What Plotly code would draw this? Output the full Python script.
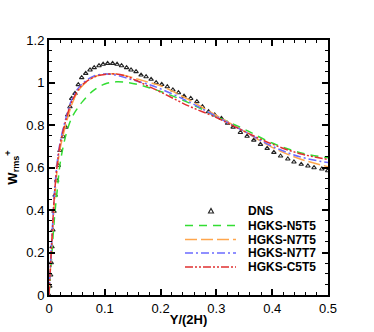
import plotly.graph_objects as go

# DNS reference points
dns_x = [0, 0.0013, 0.003, 0.004, 0.0054, 0.007, 0.009, 0.011, 0.0138, 0.0167,
         0.0197, 0.0256, 0.030, 0.0335, 0.0376, 0.0407, 0.0466, 0.0525, 0.0586,
         0.0658, 0.0735, 0.081, 0.0896, 0.097, 0.105, 0.114, 0.122, 0.130,
         0.139, 0.147, 0.156, 0.165, 0.174, 0.183, 0.192, 0.202, 0.212, 0.222,
         0.232, 0.242, 0.254, 0.265, 0.275, 0.286, 0.297, 0.309, 0.320, 0.330,
         0.343, 0.355, 0.367, 0.379, 0.391, 0.403, 0.415, 0.428, 0.439, 0.452,
         0.464, 0.475, 0.489, 0.4995]
dns_y = [0, 0.042, 0.094, 0.152, 0.227, 0.306, 0.394, 0.47, 0.54, 0.61,
         0.68, 0.745, 0.79, 0.847, 0.886, 0.925, 0.949, 0.99, 1.023, 1.043,
         1.059, 1.07, 1.079, 1.086, 1.09, 1.09, 1.086, 1.079, 1.07, 1.059,
         1.051, 1.035, 1.027, 1.015, 0.999, 0.991, 0.98, 0.965, 0.952, 0.936,
         0.925, 0.91, 0.886, 0.863, 0.847, 0.831, 0.808, 0.79, 0.765, 0.747,
         0.729, 0.709, 0.690, 0.671, 0.654, 0.640, 0.626, 0.615, 0.607, 0.599,
         0.593, 0.585]

# HGKS profiles
hgks_x = [0, 0.005, 0.01, 0.015, 0.02, 0.03, 0.04, 0.05, 0.06, 0.08, 0.1,
          0.12, 0.14, 0.16, 0.18, 0.2, 0.25, 0.3, 0.35, 0.4, 0.45, 0.5]
n5t5 = [0, 0.19, 0.37, 0.50, 0.62, 0.75, 0.83, 0.875, 0.91, 0.963, 0.993,
        1.003, 1.0, 0.99, 0.975, 0.958, 0.905, 0.84, 0.78, 0.715, 0.67, 0.646]
n7t5 = [0, 0.23, 0.45, 0.60, 0.69, 0.80, 0.89, 0.95, 0.985, 1.025, 1.04,
        1.04, 1.03, 1.015, 1.0, 0.985, 0.92, 0.845, 0.77, 0.695, 0.64, 0.604]
n7t7 = [0, 0.26, 0.49, 0.63, 0.72, 0.83, 0.915, 0.965, 0.995, 1.03, 1.04,
        1.035, 1.02, 1.005, 0.99, 0.97, 0.91, 0.84, 0.77, 0.70, 0.65, 0.623]
c5t5 = [0, 0.25, 0.48, 0.62, 0.71, 0.82, 0.905, 0.955, 0.99, 1.025, 1.038,
        1.04, 1.028, 1.005, 0.98, 0.955, 0.89, 0.835, 0.77, 0.71, 0.665, 0.638]

series_names = ['HGKS-N5T5', 'HGKS-N7T5', 'HGKS-N7T7', 'HGKS-C5T5']
series_values = [n5t5, n7t5, n7t7, c5t5]
series_colors = ['#33dd33', '#ffa64d', '#6b6bff', '#e03030']
series_dashes = ['8px,6px', '12px,4px', '8px,3px,2px,3px',
                 '8px,2px,2px,2px,2px,2px']

font = 'Arial, Liberation Sans, sans-serif'
dns_color = '#222222'

fig = go.Figure()
fig.add_trace(go.Scatter(
    x=dns_x, y=dns_y, mode='markers', name='DNS',
    marker=dict(symbol='triangle-up-open', size=4, color=dns_color,
                line=dict(width=1.1, color=dns_color)),
))
for name, ys, color, dash in zip(series_names, series_values,
                                 series_colors, series_dashes):
    fig.add_trace(go.Scatter(
        x=hgks_x, y=ys, mode='lines', name=name,
        line=dict(color=color, width=1.5, dash=dash, shape='spline'),
    ))

# hand-built legend (tighter row spacing than plotly's own legend)
plot_l, plot_w, plot_b, plot_h = 49, 279, 295, 255


def px(x):
    return (x - plot_l) / plot_w


def py(y):
    return (plot_b - y) / plot_h


rows = [211, 225.5, 239.5, 253, 267]
fig.add_annotation(
    x=px(246), y=py(rows[0]), xref='paper', yref='paper', text='<b>DNS</b>',
    showarrow=False, xanchor='left', yanchor='middle',
    font=dict(family=font, size=12, color='black'),
)
fig.add_shape(
    type='path', xref='paper', yref='paper',
    path='M {} {} L {} {} L {} {} Z'.format(
        px(208.5), py(213), px(213.5), py(213), px(211), py(208.5)),
    line=dict(color=dns_color, width=1.1),
)
for row, name, color, dash in zip(rows[1:], series_names,
                                  series_colors, series_dashes):
    fig.add_shape(
        type='line', xref='paper', yref='paper',
        x0=px(185), x1=px(236), y0=py(row), y1=py(row),
        line=dict(color=color, width=1.5, dash=dash),
    )
    fig.add_annotation(
        x=px(246), y=py(row), xref='paper', yref='paper',
        text='<b>' + name + '</b>', showarrow=False,
        xanchor='left', yanchor='middle',
        font=dict(family=font, size=12, color='black'),
    )

axis_common = dict(
    showline=True, linecolor='black', linewidth=2, mirror='allticks',
    ticks='inside', ticklen=6, tickwidth=1.5, tickcolor='black',
    showgrid=False, zeroline=False, automargin=False,
    tickfont=dict(family=font, size=13, color='black'),
)
fig.update_xaxes(
    range=[0, 0.5], dtick=0.1, tickformat='~g',
    minor=dict(dtick=0.02, ticks='inside', ticklen=3, tickwidth=1.2,
               tickcolor='black'),
    title=dict(text='<b>Y/(2H)</b>', standoff=0,
               font=dict(family=font, size=13, color='black')),
    **axis_common,
)
fig.update_yaxes(
    range=[0, 1.2], dtick=0.2, tickformat='~g',
    minor=dict(dtick=0.05, ticks='inside', ticklen=3, tickwidth=1.2,
               tickcolor='black'),
    title=dict(text='<b>W<sub>rms</sub><sup>+</sup></b>', standoff=6,
               font=dict(family=font, size=13, color='black')),
    **axis_common,
)
fig.update_layout(
    width=374, height=332,
    margin=dict(l=plot_l, r=374 - plot_l - plot_w, t=plot_b - plot_h,
                b=332 - plot_b),
    paper_bgcolor='white', plot_bgcolor='white',
    showlegend=False,
)
# drop the default page margin so the figure sits at the window's corner
fig.write_html("out.html", config={'displayModeBar': False},
               post_script="document.body.style.margin='0';")
